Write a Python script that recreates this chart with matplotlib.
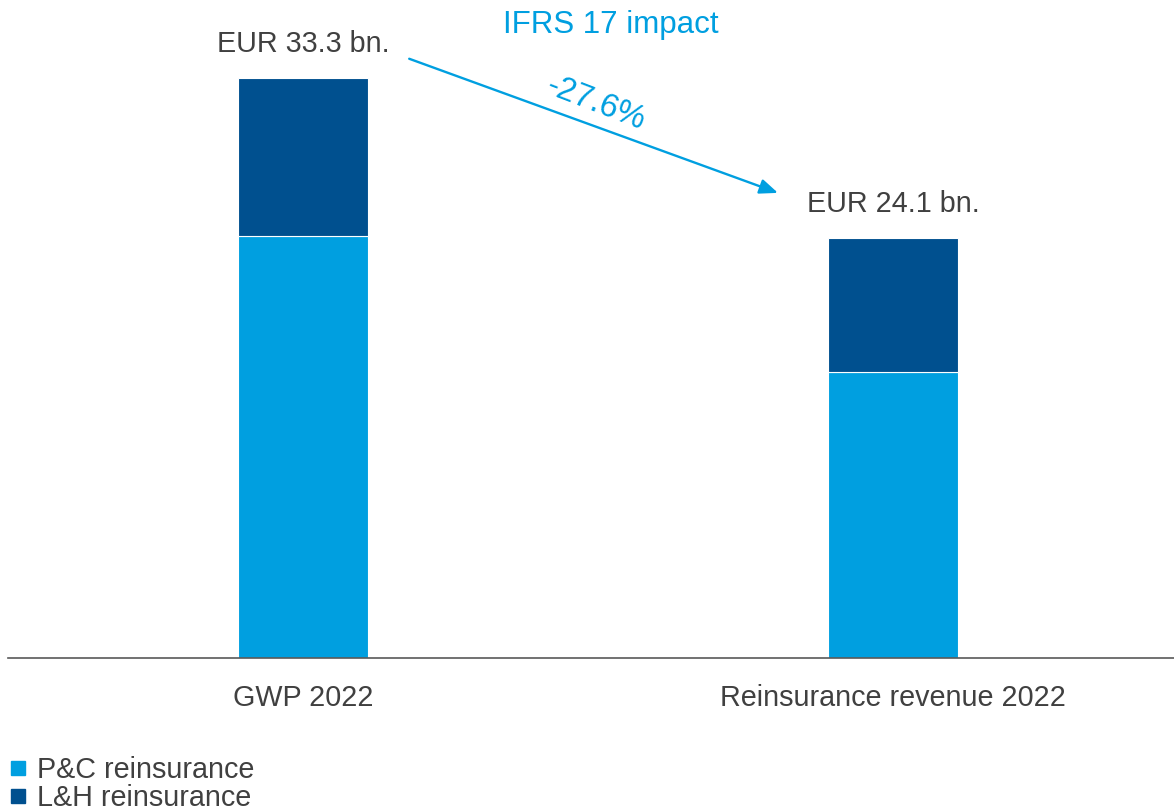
import matplotlib.pyplot as plt
from matplotlib.lines import Line2D

plt.rcParams['font.family'] = ['Liberation Sans', 'DejaVu Sans']

categories = ['GWP 2022', 'Reinsurance revenue 2022']
pc_values = [24.2, 16.4]   # P&C reinsurance, EUR bn
lh_values = [9.1, 7.7]     # L&H reinsurance, EUR bn
totals = [33.3, 24.1]
change_label = '-27.6%'

light_blue = '#009FE0'
dark_blue = '#00508F'
grey_text = '#404040'

fig = plt.figure(figsize=(11.74, 8.11), dpi=100)
W, H = 1174, 811
ax = fig.add_axes([8 / W, (H - 658) / H, (W - 8) / W, 658 / H])

x = [0, 1]
ax.bar(x, pc_values, width=0.22, color=light_blue, edgecolor='white', linewidth=0.8)
ax.bar(x, lh_values, bottom=pc_values, width=0.22, color=dark_blue,
       edgecolor='white', linewidth=0.8)

# axis limits chosen so bar spacing and height scale fit the canvas
px_per_unit = 590
ax.set_xlim(-(303 - 8) / px_per_unit, 1 + (W - 303 - 590) / px_per_unit)
ax.set_ylim(0, 658 / 17.42)

for xi, t in zip(x, totals):
    ax.annotate(f'EUR {t:.1f} bn.', (xi, t), xytext=(0, 19), textcoords='offset points',
                ha='center', va='baseline', fontsize=20.7, color=grey_text)

# arrow from GWP to reinsurance revenue
ax.annotate('', xy=(0.805, 26.7), xytext=(0.18, 34.4),
            arrowprops=dict(arrowstyle='-|>,head_length=1.1,head_width=0.45',
                            color=light_blue, lw=1.7, shrinkA=0, shrinkB=0))
ax.text(0.497, 31.8, change_label, rotation=-21, ha='center', va='center',
        fontsize=23.5, color=light_blue, rotation_mode='anchor')
ax.text(0.522, 35.9, 'IFRS 17 impact', ha='center', va='baseline',
        fontsize=22.5, color=light_blue)

ax.set_xticks(x)
ax.set_xticklabels(categories, fontsize=20.7, color=grey_text)
ax.tick_params(axis='x', length=0, pad=19)
ax.set_yticks([])
for s in ['top', 'left', 'right']:
    ax.spines[s].set_visible(False)
ax.spines['bottom'].set_color('#595959')
ax.spines['bottom'].set_linewidth(1.2)

handles = [Line2D([], [], marker='s', linestyle='', markersize=9.5, color=light_blue),
           Line2D([], [], marker='s', linestyle='', markersize=9.5, color=dark_blue)]
fig.legend(handles, ['P&C reinsurance', 'L&H reinsurance'], loc='lower left',
           bbox_to_anchor=(4 / W, -0.008), frameon=False, fontsize=20.7,
           labelcolor=grey_text, handlelength=0.6, handletextpad=0.35,
           labelspacing=0.0, borderaxespad=0.0, borderpad=0.2)

fig.savefig('out.png', dpi=100)
